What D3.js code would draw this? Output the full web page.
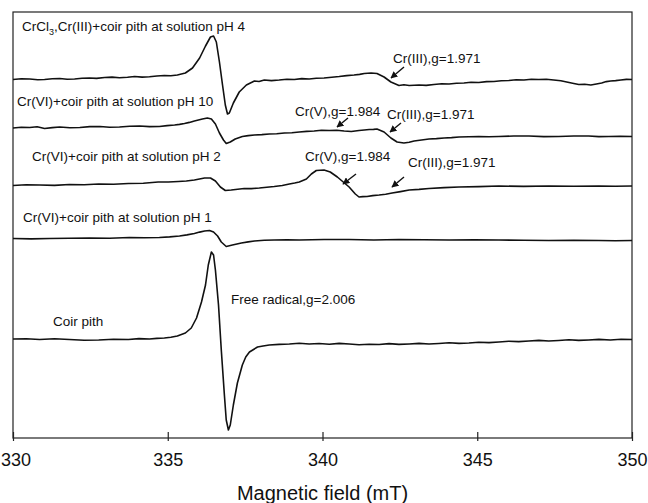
<!DOCTYPE html>
<html>
<head>
<meta charset="utf-8">
<script src="https://cdn.jsdelivr.net/npm/d3@7/dist/d3.min.js"></script>
<style>
  html, body { margin: 0; padding: 0; background: #fff; }
  svg { display: block; }
  text { font-family: "Liberation Sans", Arial, sans-serif; fill: #111; }
</style>
</head>
<body>
<svg id="chart" width="648" height="503"></svg>
<script>
// EPR spectra of coir pith samples, field in mT, intensity in arbitrary units
const fieldTicks = [330, 335, 340, 345, 350];

// vertical offsets (a.u.) used to stack the spectra
const offsets = { pH4: 359, pH10: 311, pH2: 253, pH1: 199.5, coir: 99 };

// [field (mT), signal (a.u.)]
const specPH4 = [
  [330.00,-0.5],[330.27,0.3],[330.54,0],[330.80,-0.8],[331.02,-0.5],[331.27,0.2],[331.51,0.5],[331.75,-0.3],
  [331.99,0],[332.23,0.8],[332.47,1],[332.70,0.6],[332.96,1.5],[333.20,1.9],[333.44,1.2],[333.70,1.8],
  [333.93,2.5],[334.17,1.9],[334.41,2.2],[334.65,3.0],[334.89,3.5],[335.10,3.2],[335.31,4],[335.57,6],
  [335.80,11],[336.03,21],[336.22,33],[336.38,42],[336.48,43],[336.57,37],[336.67,17],[336.77,-6],
  [336.86,-26],[336.93,-35],[336.99,-34],[337.12,-24],[337.31,-13],[337.54,-6],[337.80,-2],[337.95,-2.5],
  [338.12,-1],[338.35,-1.6],[338.60,-1],[338.85,-0.2],[339.09,-0.5],[339.33,0.4],[339.57,0],[339.80,0.8],
  [340.05,1],[340.30,1.8],[340.54,2.5],[340.78,3.4],[341.02,4],[341.20,4.6],[341.35,5.5],[341.57,6],
  [341.76,5.5],[341.99,2],[342.21,-3],[342.47,-6.5],[342.63,-5.8],[342.80,-6.5],[343.12,-6],[343.35,-6.4],
  [343.60,-5.5],[343.85,-4.8],[344.09,-5],[344.33,-4.2],[344.57,-4],[344.80,-3.2],[345.05,-3.5],[345.30,-2.6],
  [345.54,-2.5],[345.78,-1.8],[346.02,-1.5],[346.26,-0.8],[346.51,-1],[346.75,-0.3],[346.99,-0.5],[347.23,-0.2],
  [347.47,-1],[347.70,-1.8],[347.89,-3],[348.08,-4.2],[348.28,-5.5],[348.47,-5.2],[348.67,-6],[348.85,-5],
  [349.02,-4],[349.17,-2.6],[349.31,-2],[349.47,-1.6],[349.64,-1],[349.82,-0.4],[350.00,-0.5]
];

const specPH10 = [
  [330.00,-1],[330.27,-0.2],[330.54,-0.5],[330.78,0.3],[331.02,-1.5],[331.27,-0.6],[331.51,0],[331.84,-0.8],
  [332.16,-0.5],[332.48,0.4],[332.81,0.5],[333.12,-0.3],[333.44,0],[333.77,0.7],[334.09,1],[334.41,0.4],
  [334.73,0.5],[334.98,1.4],[335.22,2],[335.38,2.6],[335.54,3.5],[335.70,4.6],[335.86,6],[336.12,8],
  [336.28,9],[336.41,8],[336.54,3],[336.67,-6],[336.80,-13],[336.89,-16.5],[337.02,-15],[337.18,-12],
  [337.41,-9.5],[337.60,-8.6],[337.80,-8],[338.04,-7.6],[338.28,-7],[338.52,-6.8],[338.77,-6],[339.01,-5.8],
  [339.25,-5],[339.49,-4.4],[339.73,-4],[339.97,-3.2],[340.22,-3.5],[340.46,-3.2],[340.70,-4],[340.93,-4.5],
  [341.18,-3.5],[341.35,-3.0],[341.51,-2.5],[341.65,-2.4],[341.76,-2],[341.99,-5],[342.21,-11],[342.41,-15],
  [342.63,-16],[342.80,-15.2],[342.96,-14],[343.20,-13],[343.44,-12],[343.68,-11.6],[343.93,-11],[344.17,-10.6],
  [344.41,-10],[344.73,-9.8],[345.05,-9.5],[345.38,-9.8],[345.70,-9.5],[346.18,-9.0],[346.67,-9],[347.15,-9.6],
  [347.63,-9.5],[348.12,-9.0],[348.60,-9],[348.93,-9.6],[349.25,-9.5],[349.62,-9.2],[350.00,-9.5]
];

const specPH2 = [
  [330.00,-0.5],[330.43,0.2],[330.86,0],[331.34,-0.4],[331.82,0.5],[332.30,0.2],[332.77,1],[333.25,0.8],
  [333.73,1.5],[334.21,1.8],[334.69,3],[335.02,3.0],[335.34,3.5],[335.60,4.0],[335.86,5],[336.19,7],
  [336.38,7],[336.54,4],[336.70,-2],[336.86,-5.5],[337.05,-5],[337.26,-4.2],[337.47,-3.5],[337.70,-3.6],
  [337.96,-3],[338.20,-2.2],[338.44,-1.5],[338.70,-0.5],[338.93,1],[339.10,2.0],[339.25,3],[339.48,6],
  [339.64,11],[339.80,14.5],[340.05,15],[340.25,13],[340.48,8],[340.67,3],[340.86,-2],[341.06,-9],
  [341.18,-12],[341.30,-11.6],[341.44,-11.5],[341.62,-10.6],[341.83,-10],[342.04,-9.2],[342.25,-8],[342.52,-6.6],
  [342.80,-5],[343.12,-4.4],[343.44,-3.5],[343.93,-2.6],[344.41,-2],[345.05,-1.6],[345.70,-1],[346.50,-1.4],
  [347.31,-1],[348.12,-1.2],[348.93,-1],[349.46,-1.3],[350.00,-1]
];

const specPH1 = [
  [330.00,0],[330.59,-0.4],[331.18,0],[331.82,0.3],[332.47,0.5],[333.12,0.2],[333.76,1],[334.25,0.7],
  [334.73,1],[335.06,1.6],[335.38,2.5],[335.62,3.6],[335.86,5],[336.03,6.4],[336.19,7.5],[336.35,8],
  [336.48,6.5],[336.61,2.5],[336.73,-3.5],[336.89,-8],[337.09,-6.5],[337.38,-4.5],[337.60,-3.4],[337.80,-2.5],
  [338.12,-1.8],[338.44,-1.5],[338.85,-1.2],[339.25,-1.5],[340.05,-1.0],[340.86,-1],[341.66,-1.5],[342.47,-1],
  [343.28,-1.3],[344.09,-1.5],[344.90,-1.2],[345.70,-1.5],[346.50,-1.8],[347.31,-2],[348.12,-1.7],[348.93,-2],
  [349.46,-2.3],[350.00,-2]
];

const specCoir = [
  [330.00,0],[330.43,0.3],[330.86,-0.5],[331.34,0.2],[331.82,-0.5],[332.30,-1.2],[332.77,-1],[333.25,-0.2],
  [333.73,-0.5],[334.07,0.4],[334.41,0],[334.65,0.6],[334.89,1],[335.10,1.8],[335.31,3],[335.57,6],
  [335.76,11],[335.93,21],[336.09,37],[336.22,54],[336.31,74],[336.41,87],[336.48,84],[336.54,69],
  [336.64,34],[336.73,-11],[336.83,-56],[336.89,-81],[336.96,-91],[337.02,-86],[337.12,-66],[337.25,-44],
  [337.41,-26],[337.52,-18],[337.64,-13],[337.90,-8],[338.08,-7],[338.28,-6],[338.60,-5.4],[338.93,-5],
  [339.25,-4.2],[339.57,-5],[339.89,-4.5],[340.22,-5.2],[340.54,-4.4],[340.86,-5],[341.18,-5.8],[341.51,-5.2],
  [341.83,-5.5],[342.15,-4.6],[342.47,-5.4],[342.80,-5],[343.12,-4.4],[343.44,-5],[343.76,-4.5],[344.09,-3.8],
  [344.41,-4.4],[344.73,-4],[345.05,-3.2],[345.38,-3.6],[345.70,-3],[346.02,-2.2],[346.34,-2.6],[346.67,-2],
  [346.99,-1.4],[347.31,-2],[347.63,-1.5],[347.96,-0.8],[348.28,-1.4],[348.60,-1],[348.93,-0.4],[349.30,-1],
  [349.65,-0.2],[350.00,-0.5]
];

const series = [
  { key: "pH4",  data: specPH4 },
  { key: "pH10", data: specPH10 },
  { key: "pH2",  data: specPH2 },
  { key: "pH1",  data: specPH1 },
  { key: "coir", data: specCoir }
];

const svg = d3.select("#chart");
const plotLeft = 13, plotRight = 632, plotTop = 12, plotBottom = 438;

const x = d3.scaleLinear().domain([330, 350]).range([plotLeft, plotRight]);
const y = d3.scaleLinear().domain([0, 426]).range([plotBottom, plotTop]);

// frame
svg.append("rect")
  .attr("x", plotLeft).attr("y", plotTop)
  .attr("width", plotRight - plotLeft).attr("height", plotBottom - plotTop)
  .attr("fill", "none").attr("stroke", "#222").attr("stroke-width", 1.2);

// spectra
const line = d3.line()
  .x(d => x(d[0]))
  .y(d => y(d[1]));

series.forEach(s => {
  const off = offsets[s.key];
  svg.append("path")
    .datum(s.data.map(d => [d[0], d[1] + off]))
    .attr("d", line)
    .attr("fill", "none")
    .attr("stroke", "#111")
    .attr("stroke-width", 1.6)
    .attr("stroke-linejoin", "round");
});

// x axis
const axis = d3.axisBottom(x).tickValues(fieldTicks).tickSize(3).tickSizeOuter(0).tickPadding(0);
const gAxis = svg.append("g").attr("transform", `translate(0,${plotBottom})`).call(axis);
gAxis.select(".domain").remove();
gAxis.selectAll(".tick line").attr("y1", -6).attr("stroke", "#222").attr("stroke-width", 1.2);
gAxis.selectAll(".tick text")
  .attr("y", 28).attr("dy", 0)
  .style("font-size", "18px")
  .style("font-family", "'Liberation Sans', Arial, sans-serif")
  .attr("fill", "#111");
// first label sits flush with the left edge of the page
gAxis.selectAll(".tick text").filter(d => d === fieldTicks[0])
  .attr("text-anchor", "start").attr("x", -plotLeft + 0.5);

svg.append("text")
  .attr("x", (plotLeft + plotRight) / 2).attr("y", 500)
  .attr("text-anchor", "middle")
  .style("font-size", "20px")
  .text("Magnetic field (mT)");

// annotations
const ann = svg.append("g").style("font-size", "13.5px");

const t1 = ann.append("text").attr("x", 22).attr("y", 31);
t1.append("tspan").text("CrCl");
t1.append("tspan").attr("dy", 4).style("font-size", "9px").text("3");
t1.append("tspan").attr("dy", -4).text(",Cr(III)+coir pith at solution pH 4");

const labels = [
  { text: "Cr(VI)+coir pith at solution pH 10", x: 17,  y: 106 },
  { text: "Cr(VI)+coir pith at solution pH 2",  x: 32,  y: 161 },
  { text: "Cr(VI)+coir pith at solution pH 1",  x: 23,  y: 222 },
  { text: "Coir pith",                          x: 53,  y: 326 },
  { text: "Free radical,g=2.006",               x: 231, y: 304 },
  { text: "Cr(III),g=1.971",                    x: 393, y: 63 },
  { text: "Cr(V),g=1.984",                      x: 295, y: 116 },
  { text: "Cr(III),g=1.971",                    x: 387, y: 119 },
  { text: "Cr(V),g=1.984",                      x: 305, y: 161 },
  { text: "Cr(III),g=1.971",                    x: 408, y: 167 }
];
ann.selectAll("text.lbl").data(labels).enter().append("text")
  .attr("class", "lbl")
  .attr("x", d => d.x).attr("y", d => d.y)
  .text(d => d.text);

// arrow markers
svg.append("defs").append("marker")
  .attr("id", "head")
  .attr("viewBox", "0 0 10 10")
  .attr("refX", 9).attr("refY", 5)
  .attr("markerWidth", 7).attr("markerHeight", 7)
  .attr("markerUnits", "userSpaceOnUse")
  .attr("orient", "auto")
  .append("path").attr("d", "M0,0 L10,5 L0,10 z").attr("fill", "#111");

const arrows = [
  [404, 67, 391, 78],
  [348, 118, 337, 127],
  [401, 123, 390, 132],
  [356, 174, 343, 184],
  [404, 177, 392, 187]
];
svg.selectAll("line.arrow").data(arrows).enter().append("line")
  .attr("class", "arrow")
  .attr("x1", d => d[0]).attr("y1", d => d[1])
  .attr("x2", d => d[2]).attr("y2", d => d[3])
  .attr("stroke", "#111").attr("stroke-width", 1.4)
  .attr("marker-end", "url(#head)");
</script>
</body>
</html>
